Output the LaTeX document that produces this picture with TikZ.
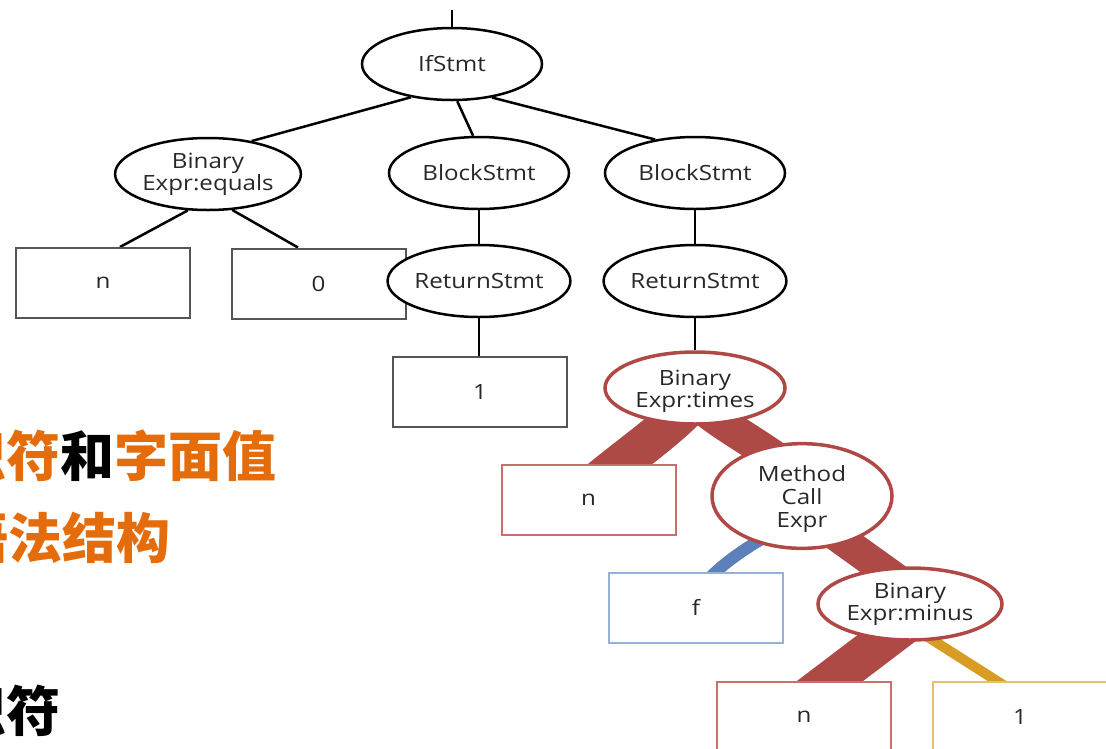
\documentclass[tikz,border=0pt]{standalone}
\usepackage{fontspec}
\newfontfamily\lab[FakeStretch=1.15]{Open Sans}
\newfontfamily\cjk{Noto Sans CJK SC}
\usetikzlibrary{shapes.geometric,calc}
\definecolor{txtgray}{RGB}{40,40,40}
\definecolor{boxgray}{RGB}{85,85,85}
\definecolor{redE}{RGB}{176,72,70}
\definecolor{redB}{RGB}{174,74,69}
\definecolor{redbox}{RGB}{200,112,110}
\definecolor{blueB}{RGB}{92,128,185}
\definecolor{bluebox}{RGB}{150,178,218}
\definecolor{yelB}{RGB}{216,155,35}
\definecolor{yelbox}{RGB}{232,192,105}
\definecolor{orng}{RGB}{228,108,10}
\pgfdeclarelayer{bg}
\pgfsetlayers{bg,main}
\begin{document}
\begin{tikzpicture}[x=1pt,y=-1pt,
  ell/.style={ellipse, draw=black, line width=2.5pt, fill=white, minimum width=180pt, minimum height=72pt, inner sep=0pt, align=center, font=\lab\fontsize{21}{22}\selectfont, text=txtgray},
  rell/.style={ell, draw=redE, line width=3.5pt},
  leaf/.style={rectangle, draw=boxgray, line width=2pt, fill=white, minimum width=174pt, minimum height=70pt, inner sep=0pt, font=\lab\fontsize{21}{22}\selectfont, text=txtgray},
  tedge/.style={line width=2.5pt, draw=black},
  band/.style={line cap=butt},
  cjkline/.style={anchor=base west, inner sep=0pt, font=\cjk\bfseries\fontsize{54}{54}\selectfont}
]
\useasboundingbox (0,0) rectangle (1106,748);

% leaves
\node[leaf] (boxn1) at (103,283) {n};
\node[leaf] (box0) at (318.5,283.5) {0};
\node[leaf] (box1) at (480,391.5) {1};
\node[leaf, draw=redbox] (boxn2) at (588.5,499.5) {n};
\node[leaf, draw=bluebox] (boxf) at (696,607.5) {f};
\node[leaf, draw=redbox] (boxn3) at (804,717) {n};
\node[leaf, draw=yelbox] (boxy) at (1020,717) {1};

% inner nodes
\node[ell] (ifstmt) at (452,64) {IfStmt};
\node[ell] (equals) at (208,174) {Binary\\Expr:equals};
\node[ell] (block1) at (479,173) {BlockStmt};
\node[ell] (block2) at (695,173) {BlockStmt};
\node[ell] (ret1) at (479,281) {ReturnStmt};
\node[ell] (ret2) at (695,281) {ReturnStmt};
\node[rell] (times) at (695,388) {\rule{0pt}{4pt}\\[-4pt]Binary\\Expr:times};
\node[rell, minimum height=70pt, font=\lab\fontsize{21}{23}\selectfont] (mc) at (802,496) {\rule{0pt}{6pt}\\[-6pt]Method\\Call\\Expr};
\node[rell, minimum width=184pt] (minus) at (910,604) {Binary\\Expr:minus};

\coordinate (topend) at (452,10);

\begin{pgfonlayer}{bg}
  % black tree edges
  \draw[tedge] (ifstmt.north) -- (topend);
  \draw[tedge] (ifstmt.219) -- (equals.37);
  \draw[tedge] (ifstmt.278) -- (block1.99);
  \draw[tedge] (ifstmt.320) -- (block2.140);
  \draw[tedge] (equals.241) -- ([xshift=17pt]boxn1.north);
  \draw[tedge] (equals.304) -- ([xshift=-20.5pt]box0.north);
  \draw[tedge] (block1.south) -- (ret1.north);
  \draw[tedge] (ret1.south) -- (ret1.south |- box1.north);
  \draw[tedge] (block2.south) -- (ret2.north);
  \draw[tedge] (ret2.south) -- (times.north);
  % highlighted flow bands
  \draw[band, draw=redB, line width=40pt] ($(times)+(0,10)$) .. controls +(-15,22) and +(30,-25) .. ($(boxn2)+(11.5,-19.5)$);
  \draw[band, draw=redB, line width=33pt] ($(times)+(0,12)$) .. controls +(15,20) and +(-32,-29) .. ($(mc)+(-2,-19)$);
  \draw[band, draw=redB, line width=31pt] ($(mc)+(0,15)$) -- ($(minus)+(-5,-19)$);
  \draw[band, draw=redB, line width=40pt] ($(minus)+(7,11)$) -- ($(boxn3)+(1,-17)$);
  \draw[band, draw=blueB, line width=12pt] ($(mc)+(0,24)$) .. controls +(-35,12) and +(15,-18) .. ($(boxf)+(12,-27.5)$);
  \draw[band, draw=yelB, line width=10pt] ($(minus)+(10,28)$) -- ($(boxy)+(-12,-29)$);
\end{pgfonlayer}

% side text
\node[cjkline, text=orng] (l1) at (-102,476) {标识符\textcolor{black}{和}字面值};
\node[cjkline, text=orng] (l2) at (-46,558) {语法结构};
\node[cjkline, text=black] (l3) at (-102,731) {标识符};
\end{tikzpicture}
\end{document}
